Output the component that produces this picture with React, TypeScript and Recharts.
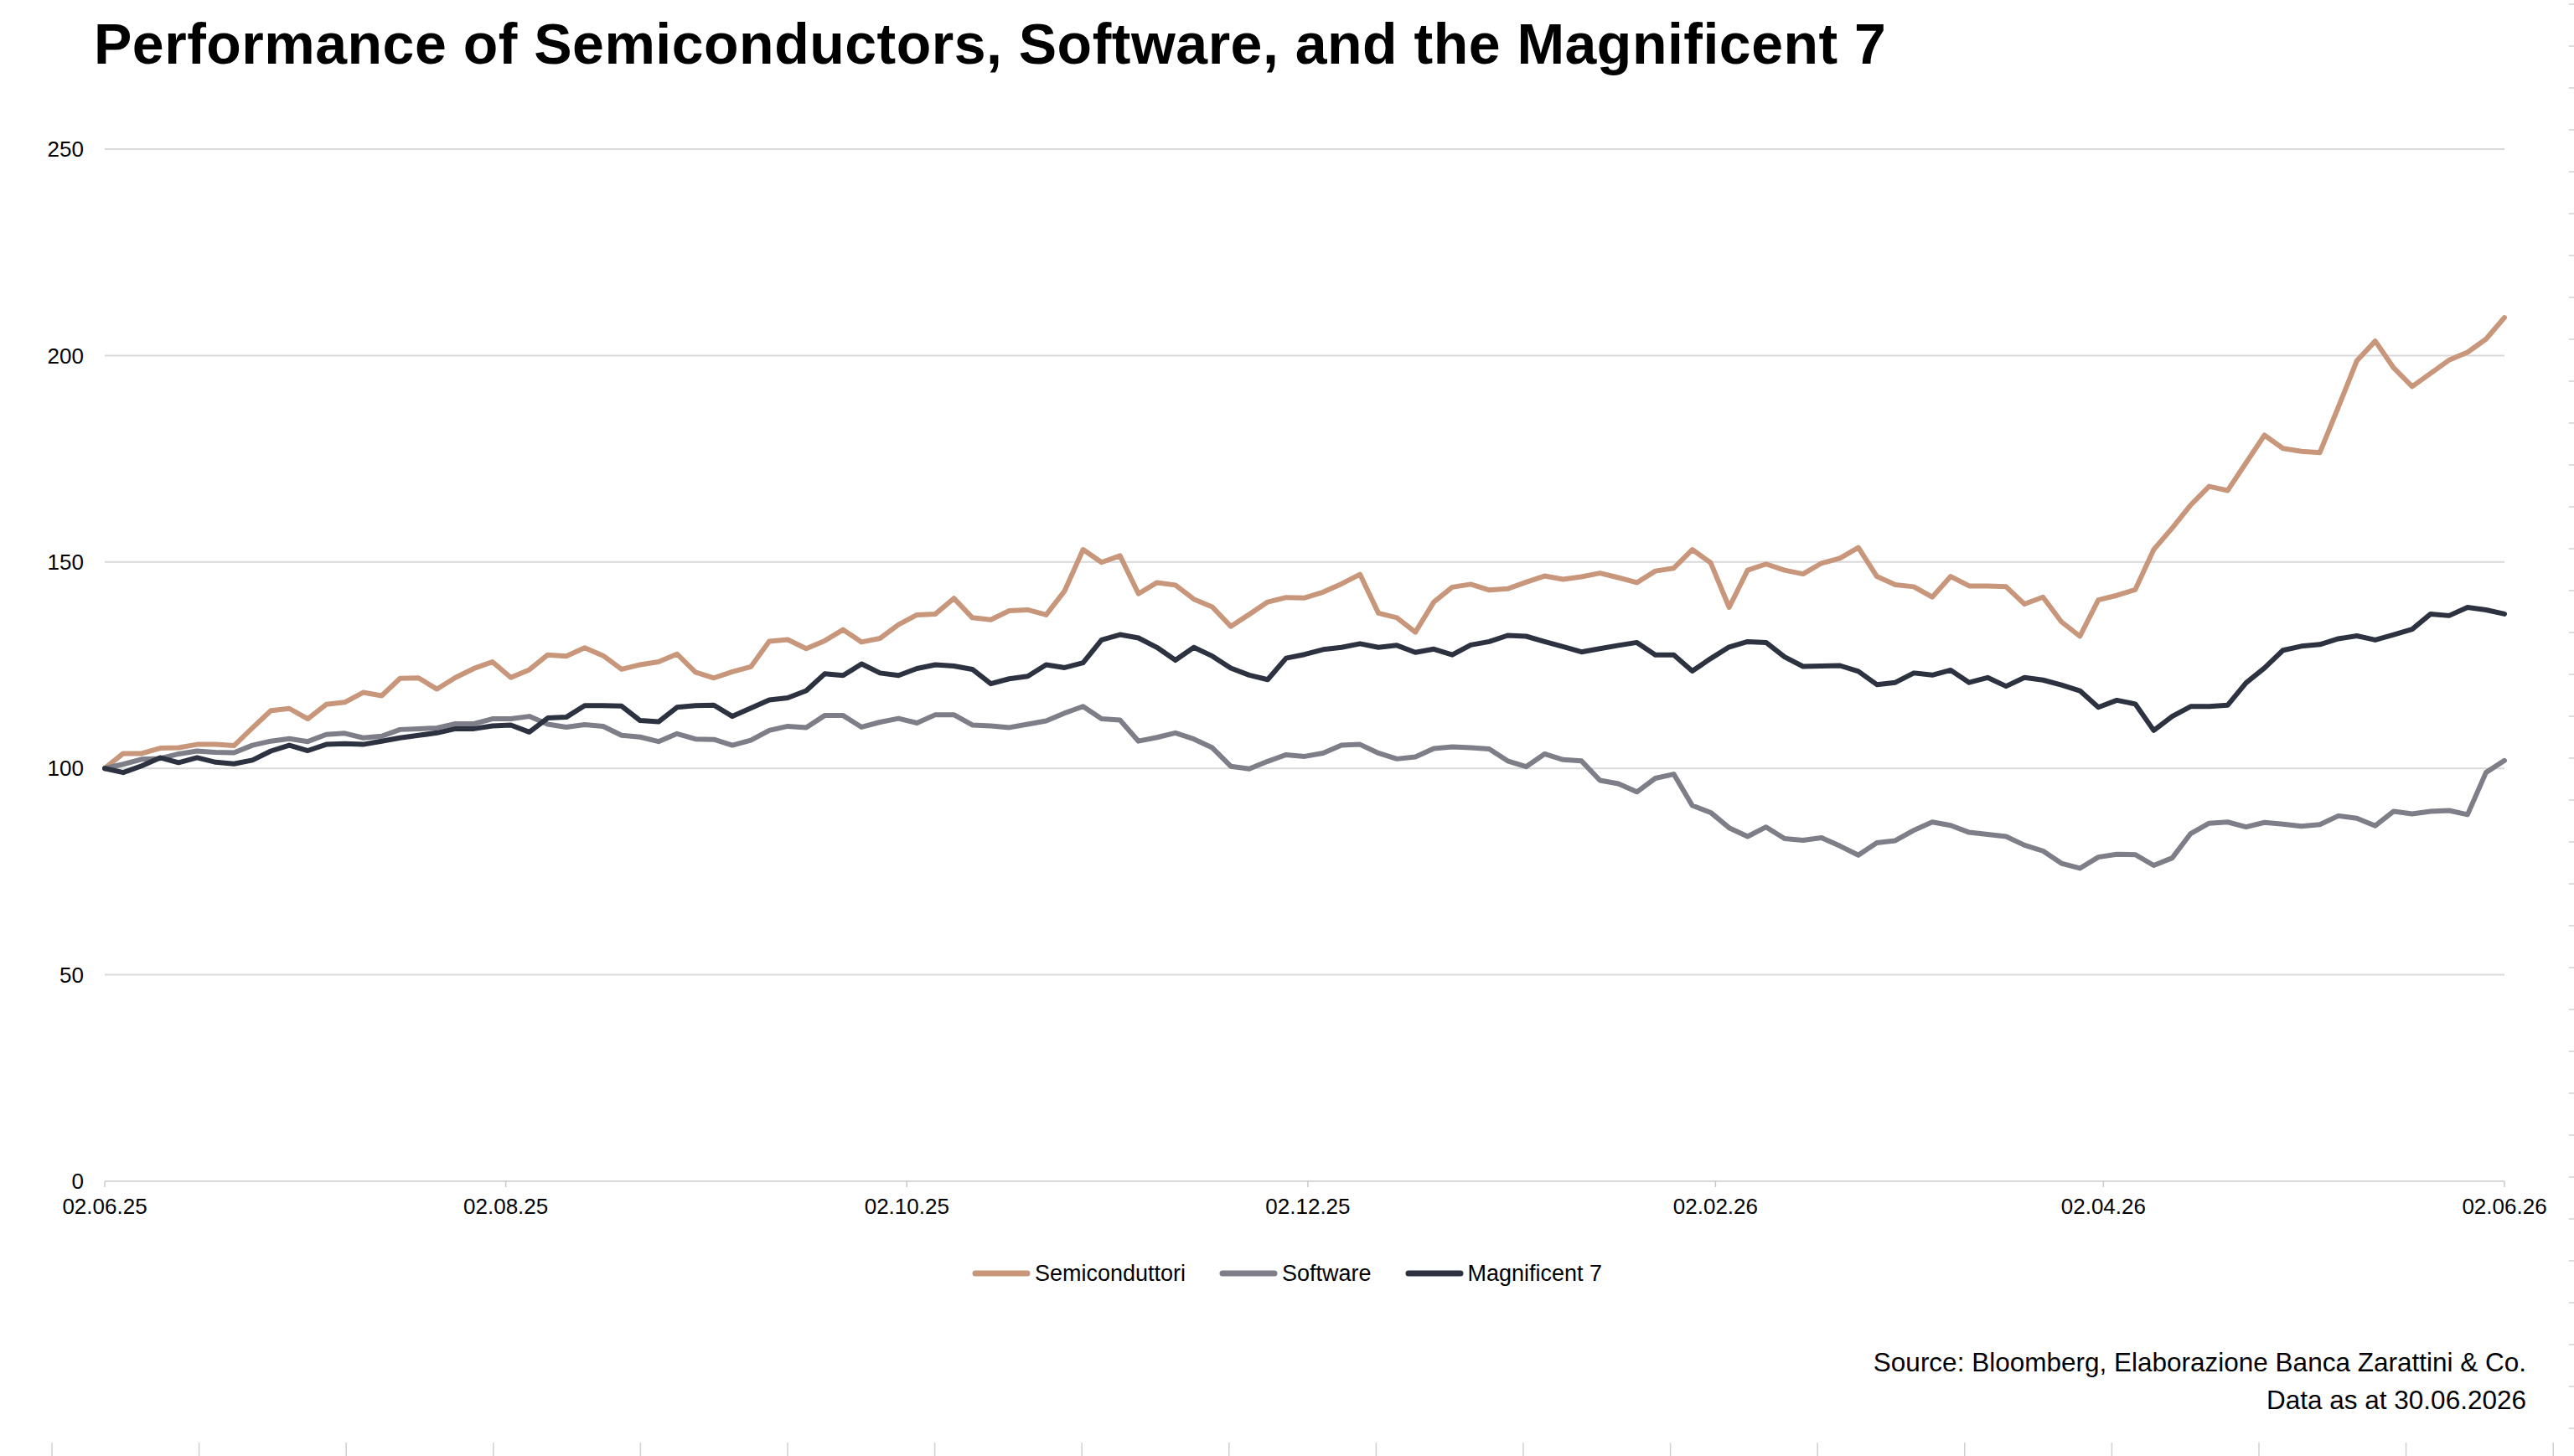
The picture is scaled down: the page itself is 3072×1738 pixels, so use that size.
import { LineChart, Line, XAxis, YAxis, CartesianGrid, Legend } from 'recharts';

// values read every ~2 trading days, 02.06.25 -> 02.06.26, rebased to 100
const semis = [
  100, 103.6, 103.6, 104.9, 105, 105.8, 105.8, 105.5, 109.8, 114,
  114.5, 112, 115.5, 116, 118.4, 117.6, 121.8, 121.9, 119.2, 122,
  124.2, 125.8, 122, 123.9, 127.5, 127.2, 129.2, 127.3, 124, 125.1,
  125.8, 127.7, 123.3, 121.9, 123.4, 124.6, 130.8, 131.2, 129, 130.9,
  133.6, 130.6, 131.5, 134.8, 137.2, 137.4, 141.2, 136.5, 136, 138.2,
  138.4, 137.2, 143, 153, 149.9, 151.5, 142.3, 145, 144.4, 141,
  139.1, 134.4, 137.3, 140.3, 141.4, 141.3, 142.7, 144.7, 147, 137.6,
  136.5, 133, 140.3, 143.9, 144.6, 143.2, 143.5, 145.1, 146.6, 145.8,
  146.4, 147.3, 146.2, 145, 147.8, 148.5, 153, 149.8, 139, 148,
  149.5, 148, 147.1, 149.7, 150.9, 153.5, 146.5, 144.5, 144, 141.5,
  146.5, 144.2, 144.2, 144, 139.8, 141.5, 135.5, 132, 140.8, 141.9,
  143.3, 153, 158.2, 163.8, 168.3, 167.3, 174, 180.7, 177.5, 176.8,
  176.5, 187.5, 198.7, 203.5, 197, 192.5, 195.7, 198.9, 200.8, 204,
  209.2,
];

const software = [
  100, 101, 102.2, 102.4, 103.5, 104.2, 103.9, 103.8, 105.6, 106.6,
  107.2, 106.5, 108.2, 108.5, 107.4, 107.8, 109.4, 109.6, 109.8, 110.8,
  110.8, 112, 112, 112.6, 110.7, 110, 110.6, 110.2, 108, 107.6,
  106.5, 108.4, 107.1, 107, 105.6, 106.8, 109.2, 110.2, 109.9, 112.8,
  112.8, 110, 111.2, 112.1, 111, 113, 113, 110.5, 110.3, 109.9,
  110.7, 111.5, 113.4, 115, 112, 111.7, 106.6, 107.5, 108.6, 107.1,
  105, 100.5, 99.9, 101.7, 103.3, 102.9, 103.7, 105.6, 105.8, 103.7,
  102.3, 102.8, 104.8, 105.2, 105, 104.7, 101.8, 100.4, 103.5, 102.1,
  101.8, 97.1, 96.3, 94.3, 97.6, 98.6, 91, 89.3, 85.6, 83.5,
  85.8, 83, 82.6, 83.2, 81.2, 79, 82, 82.5, 85, 87,
  86.2, 84.5, 84, 83.5, 81.4, 80, 77, 75.8, 78.5, 79.2,
  79.1, 76.5, 78.3, 84.2, 86.7, 87, 85.8, 86.9, 86.5, 86,
  86.4, 88.5, 87.9, 86.1, 89.6, 89, 89.6, 89.8, 88.8, 99,
  101.9,
];

const mag7 = [
  100, 99, 100.6, 102.6, 101.4, 102.6, 101.5, 101.1, 102, 104.2,
  105.6, 104.3, 105.8, 106, 105.8, 106.6, 107.4, 108, 108.6, 109.6,
  109.6, 110.3, 110.5, 108.8, 112.2, 112.4, 115.2, 115.2, 115.1, 111.6,
  111.3, 114.8, 115.2, 115.3, 112.6, 114.6, 116.6, 117.1, 118.8, 122.9,
  122.5, 125.3, 123.1, 122.5, 124.2, 125.1, 124.8, 124, 120.5, 121.7,
  122.3, 125.1, 124.4, 125.6, 131.1, 132.4, 131.6, 129.3, 126.2, 129.3,
  127.2, 124.3, 122.6, 121.5, 126.7, 127.6, 128.8, 129.3, 130.2, 129.3,
  129.8, 128.1, 128.9, 127.5, 129.9, 130.7, 132.2, 132, 130.7, 129.5,
  128.2, 129, 129.8, 130.5, 127.5, 127.5, 123.6, 126.6, 129.4, 130.7,
  130.5, 127, 124.7, 124.8, 124.9, 123.5, 120.3, 120.8, 123.1, 122.6,
  123.8, 120.8, 122, 119.9, 122, 121.4, 120.2, 118.8, 114.8, 116.5,
  115.6, 109.2, 112.6, 115, 115, 115.3, 120.7, 124.3, 128.6, 129.6,
  130, 131.4, 132.1, 131.1, 132.4, 133.7, 137.4, 137, 139, 138.4,
  137.4,
];

// calendar days from 02.06.25 for each axis label
const tickDays = [0, 61, 122, 183, 245, 304, 365];
const tickLabels = ['02.06.25', '02.08.25', '02.10.25', '02.12.25', '02.02.26', '02.04.26', '02.06.26'];
const yTicks = [0, 50, 100, 150, 200, 250];

const series = [
  { key: 'semis', name: 'Semiconduttori', color: '#C8977B' },
  { key: 'software', name: 'Software', color: '#7E7E89' },
  { key: 'mag7', name: 'Magnificent 7', color: '#2D3240' },
];

const lastIdx = semis.length - 1;
const data = semis.map((v, i) => ({ idx: i, semis: v, software: software[i], mag7: mag7[i] }));
const xTicks = tickDays.map((d) => (d * lastIdx) / 365);

const FONT = '"Liberation Sans", Arial, sans-serif';

function LegendContent() {
  return (
    <div style={{ display: 'flex', justifyContent: 'center', alignItems: 'center', height: 40, fontSize: 27, color: '#000' }}>
      {series.map((s, i) => (
        <div key={s.key} style={{ display: 'flex', alignItems: 'center', marginLeft: i === 0 ? 0 : 40 }}>
          <svg width={70} height={10}>
            <line x1={4} y1={5} x2={66} y2={5} stroke={s.color} strokeWidth={7} strokeLinecap="round" />
          </svg>
          <span style={{ marginLeft: 5 }}>{s.name}</span>
        </div>
      ))}
    </div>
  );
}

function Ruler() {
  const bottom = Array.from({ length: 18 }, (_, k) => 62 + k * 175.6);
  const right = Array.from({ length: 35 }, (_, k) => 5 + k * 50);
  return (
    <svg width={3072} height={1738} style={{ position: 'absolute', top: 0, left: 0, pointerEvents: 'none' }}>
      {bottom.map((x) => (
        <line key={`b${x}`} x1={x} y1={1722} x2={x} y2={1738} stroke="#d0d0d0" strokeWidth={1.5} />
      ))}
      {right.map((y) => (
        <line key={`r${y}`} x1={3066} y1={y} x2={3072} y2={y} stroke="#d0d0d0" strokeWidth={1.5} />
      ))}
    </svg>
  );
}

export default function App() {
  return (
    <div style={{ position: 'absolute', top: 0, left: 0, width: 3072, height: 1738, background: '#fff', fontFamily: FONT, overflow: 'hidden' }}>
      <div style={{ position: 'absolute', top: 18, left: 112, fontSize: 68, lineHeight: '68px', fontWeight: 700, color: '#000', whiteSpace: 'nowrap', letterSpacing: 0.5 }}>
        Performance of Semiconductors, Software, and the Magnificent 7
      </div>

      <LineChart width={3072} height={1540} data={data} margin={{ top: 178, right: 83, left: 25, bottom: 0 }} style={{ position: 'absolute', top: 0, left: 0 }}>
        <CartesianGrid vertical={false} stroke="#d9d9d9" strokeWidth={2} />
        <XAxis
          dataKey="idx"
          type="number"
          domain={[0, lastIdx]}
          ticks={xTicks}
          interval={0}
          tickFormatter={(_v, i) => tickLabels[i]}
          height={90}
          tickSize={7}
          tickMargin={14}
          axisLine={{ stroke: '#d9d9d9', strokeWidth: 2 }}
          tickLine={{ stroke: '#c8c8c8', strokeWidth: 1.5 }}
          tick={{ fontSize: 26, fill: '#000', fontFamily: FONT }}
        />
        <YAxis
          type="number"
          domain={[0, 250]}
          ticks={yTicks}
          width={100}
          axisLine={false}
          tickLine={false}
          tickSize={0}
          tickMargin={25}
          tick={{ fontSize: 26, fill: '#000', fontFamily: FONT }}
        />
        <Legend verticalAlign="bottom" content={<LegendContent />} wrapperStyle={{ left: 0, width: 3072 }} />
        {series.map((s) => (
          <Line
            key={s.key}
            type="linear"
            dataKey={s.key}
            name={s.name}
            stroke={s.color}
            strokeWidth={6}
            strokeLinejoin="round"
            strokeLinecap="round"
            dot={false}
            activeDot={false}
            isAnimationActive={false}
          />
        ))}
      </LineChart>

      <div style={{ position: 'absolute', top: 1604, right: 57, fontSize: 31.5, lineHeight: '45px', textAlign: 'right', color: '#000' }}>
        <div>Source: Bloomberg, Elaborazione Banca Zarattini &amp; Co.</div>
        <div>Data as at 30.06.2026</div>
      </div>

      <Ruler />
    </div>
  );
}
